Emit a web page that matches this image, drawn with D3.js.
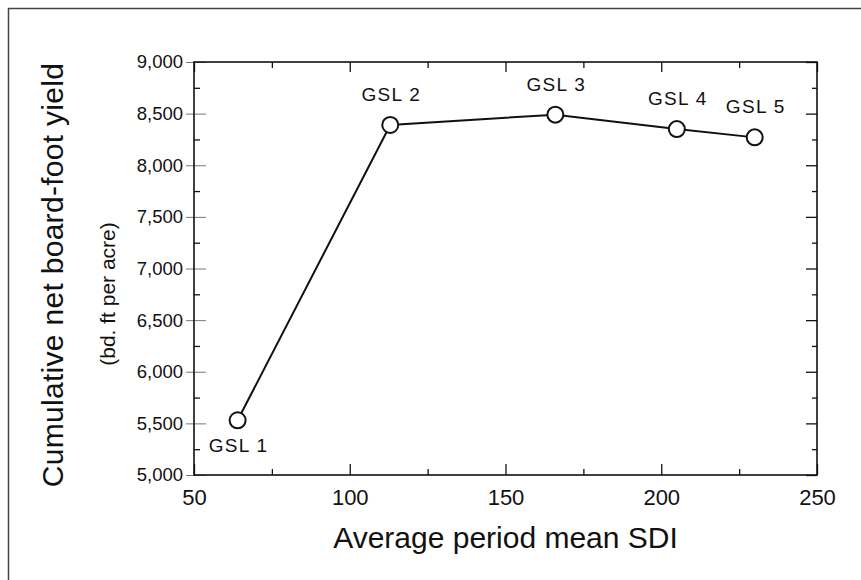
<!DOCTYPE html>
<html>
<head>
<meta charset="utf-8">
<script src="https://cdn.jsdelivr.net/npm/d3@7/dist/d3.min.js"></script>
<style>
  html, body { margin: 0; padding: 0; background: #fff; }
  svg { display: block; font-family: "Liberation Sans", Arial, Helvetica, sans-serif; }
</style>
</head>
<body>
<svg id="chart" width="861" height="580"></svg>
<script>
// ---- data ----
const categories = ["GSL 1", "GSL 2", "GSL 3", "GSL 4", "GSL 5"];
const sdiValues = [64, 113, 166, 205, 230];
const yieldValues = [5530, 8390, 8490, 8350, 8270];
const labelPlacement = ["below", "above", "above", "above", "above"];
const xMajorTicks = [50, 100, 150, 200, 250];
const xMinorTicks = [75, 125, 175, 225];
const yMajorTicks = [5000, 5500, 6000, 6500, 7000, 7500, 8000, 8500, 9000];
const yMinorTicks = [5250, 5750, 6250, 6750, 7250, 7750, 8250, 8750];
const xTitle = "Average period mean SDI";
const yTitle = "Cumulative net board-foot yield";
const ySubTitle = "(bd. ft per acre)";

// ---- layout ----
(function () {
const svg = d3.select("#chart");
const pL = 194, pR = 817, pT = 62, pB = 475;
const x = d3.scaleLinear().domain([50, 250]).range([pL, pR]);
const y = d3.scaleLinear().domain([5000, 9000]).range([pB, pT]);
const ink = "#111";

// outer frame (left and top edges of cropped box)
svg.append("line").attr("x1", 8.5).attr("x2", 8.5).attr("y1", 8).attr("y2", 580)
  .attr("stroke", "#444").attr("stroke-width", 1.5);
svg.append("line").attr("x1", 8).attr("x2", 861).attr("y1", 8.5).attr("y2", 8.5)
  .attr("stroke", "#444").attr("stroke-width", 1.5);

const fmt = d3.format(",");
function styleAxis(g) {
  g.select(".domain").remove();
  g.selectAll(".tick line").attr("stroke", ink).attr("stroke-width", 1.3);
}

// bottom
const gBottom = svg.append("g").attr("transform", `translate(0,${pB})`)
  .call(d3.axisBottom(x).tickValues(xMajorTicks).tickFormat(d3.format("d"))
    .tickSizeInner(-11).tickSizeOuter(0).tickPadding(14));
styleAxis(gBottom);
gBottom.selectAll(".tick text").attr("font-size", 22).attr("fill", ink)
  .attr("font-family", "Liberation Sans, Arial, sans-serif");
svg.append("g").attr("transform", `translate(0,${pB})`)
  .call(d3.axisBottom(x).tickValues(xMinorTicks).tickFormat("").tickSizeInner(-6).tickSizeOuter(0))
  .call(styleAxis);

// top
svg.append("g").attr("transform", `translate(0,${pT})`)
  .call(d3.axisTop(x).tickValues(xMajorTicks).tickFormat("").tickSizeInner(-10).tickSizeOuter(0))
  .call(styleAxis);
svg.append("g").attr("transform", `translate(0,${pT})`)
  .call(d3.axisTop(x).tickValues(xMinorTicks).tickFormat("").tickSizeInner(-6).tickSizeOuter(0))
  .call(styleAxis);

// left
const gLeft = svg.append("g").attr("transform", `translate(${pL},0)`)
  .call(d3.axisLeft(y).tickValues(yMajorTicks).tickFormat(fmt)
    .tickSizeInner(-12).tickSizeOuter(0).tickPadding(11));
styleAxis(gLeft);
gLeft.selectAll(".tick line").attr("x1", -8).attr("stroke", "#777").attr("stroke-width", 1);
gLeft.selectAll(".tick text").attr("font-size", 18.5).attr("fill", ink)
  .attr("font-family", "Liberation Sans, Arial, sans-serif");
svg.append("g").attr("transform", `translate(${pL},0)`)
  .call(d3.axisLeft(y).tickValues(yMinorTicks).tickFormat("").tickSizeInner(-6).tickSizeOuter(0))
  .call(styleAxis);

// right
svg.append("g").attr("transform", `translate(${pR},0)`)
  .call(d3.axisRight(y).tickValues(yMajorTicks).tickFormat("").tickSizeInner(-11).tickSizeOuter(0))
  .call(styleAxis);
svg.append("g").attr("transform", `translate(${pR},0)`)
  .call(d3.axisRight(y).tickValues(yMinorTicks).tickFormat("").tickSizeInner(-5).tickSizeOuter(0))
  .call(styleAxis);

// plot box
svg.append("rect").attr("x", pL).attr("y", pT)
  .attr("width", pR - pL).attr("height", pB - pT)
  .attr("fill", "none").attr("stroke", ink).attr("stroke-width", 1.6);

// data
const pts = categories.map((c, i) => ({ name: c, sdi: sdiValues[i], val: yieldValues[i], place: labelPlacement[i] }));

svg.append("path").datum(pts)
  .attr("fill", "none").attr("stroke", ink).attr("stroke-width", 2)
  .attr("d", d3.line().x(d => x(d.sdi)).y(d => y(d.val)));

svg.selectAll("circle.pt").data(pts).join("circle")
  .attr("class", "pt")
  .attr("cx", d => x(d.sdi)).attr("cy", d => y(d.val)).attr("r", 8)
  .attr("fill", "#fff").attr("stroke", ink).attr("stroke-width", 2);

svg.selectAll("text.lbl").data(pts).join("text")
  .attr("class", "lbl")
  .attr("x", d => x(d.sdi) + 1)
  .attr("y", d => y(d.val) + (d.place === "below" ? 32 : -24))
  .attr("text-anchor", "middle")
  .attr("font-size", 19).attr("letter-spacing", 1.3).attr("fill", ink)
  .text(d => d.name);

// titles
svg.append("text").attr("x", (pL + pR) / 2).attr("y", 548)
  .attr("text-anchor", "middle").attr("font-size", 30).attr("fill", ink)
  .text(xTitle);

svg.append("text").attr("transform", `translate(63,275) rotate(-90)`)
  .attr("text-anchor", "middle").attr("font-size", 30).attr("letter-spacing", 0.3).attr("fill", ink)
  .text(yTitle);

svg.append("text").attr("transform", `translate(115,294) rotate(-90)`)
  .attr("text-anchor", "middle").attr("font-size", 21).attr("fill", ink)
  .text(ySubTitle);
})();
</script>
</body>
</html>
